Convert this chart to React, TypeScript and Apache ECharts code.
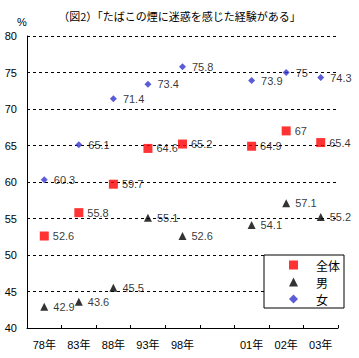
import React, { useEffect, useRef } from "react";
import * as echarts from "echarts";

const categories = ["78年", "83年", "88年", "93年", "98年", "", "01年", "02年", "03年"];
const totalValues = [52.6, 55.8, 59.7, 64.6, 65.2, null, 64.9, 67, 65.4];
const maleValues = [42.9, 43.6, 45.5, 55.1, 52.6, null, 54.1, 57.1, 55.2];
const femaleValues = [60.3, 65.1, 71.4, 73.4, 75.8, null, 73.9, 75, 74.3];
const seriesNames = ["全体", "男", "女"];
const titleText = "（図2）「たばこの煙に迷惑を感じた経験がある」";

const FONT = "'Liberation Sans', Arial, 'Noto Sans CJK JP', sans-serif";
const CJK = "'Noto Sans CJK JP', sans-serif";

export default function App() {
  const ref = useRef<HTMLDivElement>(null);
  useEffect(() => {
    if (!ref.current) return;
    const chart = echarts.init(ref.current, null, { renderer: "svg" });
    const labelStyle = (distance: number) => ({
      show: true,
      position: "right",
      distance,
      color: "#000",
      fontSize: 11,
      fontFamily: FONT,
    });
    chart.setOption({
      animation: false,
      backgroundColor: "#fff",
      title: {
        text: titleText,
        left: "center",
        top: 5,
        textStyle: { fontSize: 11, fontWeight: "normal", color: "#000", fontFamily: CJK },
      },
      grid: { left: 27, right: 21, top: 36, bottom: 30 },
      legend: {
        orient: "vertical",
        left: 264,
        top: 255,
        data: seriesNames,
        itemWidth: 9,
        itemHeight: 9,
        itemGap: 5,
        symbolKeepAspect: true,
        padding: [4, 4, 3, 25],
        backgroundColor: "#fff",
        borderColor: "#000",
        borderWidth: 1,
        borderRadius: 0,
        textStyle: { fontSize: 12, color: "#000", fontFamily: CJK, padding: [0, 0, 0, 13] },
      },
      xAxis: {
        type: "category",
        data: categories,
        boundaryGap: true,
        axisLine: { lineStyle: { color: "#000", width: 1 } },
        axisTick: { show: true, inside: true, length: 3, alignWithLabel: false, interval: 0, lineStyle: { color: "#000" } },
        axisLabel: { interval: 0, color: "#000", fontSize: 11, fontFamily: FONT, margin: 11 },
        splitLine: { show: false },
      },
      yAxis: {
        type: "value",
        min: 40,
        max: 80,
        interval: 5,
        name: "%",
        nameLocation: "end",
        nameGap: 9,
        nameTextStyle: { color: "#000", fontSize: 11, fontFamily: FONT, padding: [0, 10, 0, 0] },
        axisLine: { show: true, lineStyle: { color: "#000", width: 1 } },
        axisTick: { show: false },
        axisLabel: { color: "#000", fontSize: 11, fontFamily: FONT, margin: 10 },
        splitLine: { show: true, lineStyle: { color: "#000", type: [3, 3], width: 1 } },
      },
      series: [
        {
          name: seriesNames[0],
          type: "scatter",
          data: totalValues,
          symbol: "rect",
          symbolSize: 9,
          itemStyle: { color: "#ff0000" },
          label: labelStyle(4),
          z: 3,
        },
        {
          name: seriesNames[1],
          type: "scatter",
          data: maleValues,
          symbol: "triangle",
          symbolSize: 8,
          itemStyle: { color: "#000" },
          label: labelStyle(5),
          z: 3,
        },
        {
          name: seriesNames[2],
          type: "scatter",
          data: femaleValues,
          symbol: "diamond",
          symbolSize: 7,
          itemStyle: { color: "#3333cc" },
          label: labelStyle(6),
          z: 3,
        },
      ],
    });
    return () => chart.dispose();
  }, []);
  return <div ref={ref} style={{ width: 359, height: 358, position: "absolute", left: 0, top: 0 }} />;
}
